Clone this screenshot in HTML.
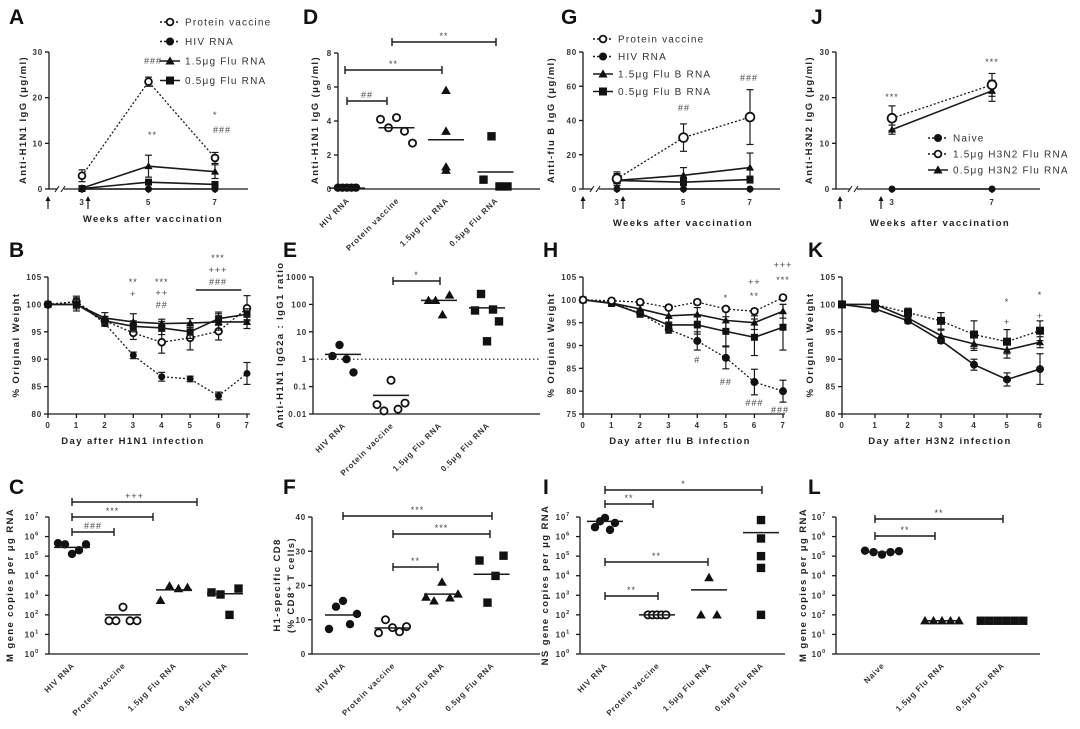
<!DOCTYPE html>
<html><head><meta charset="utf-8"><style>
html,body{margin:0;padding:0;background:#fff;}
svg{display:block;font-family:"Liberation Sans",sans-serif;}
.t{font-size:8px;font-weight:bold;fill:#333;letter-spacing:0.8px}
.ti{font-size:9.5px;font-weight:bold;fill:#222;letter-spacing:1.4px}
.lg{font-size:10px;fill:#333;letter-spacing:1.2px}
.pl{font-size:21px;font-weight:bold;fill:#111}
.an{font-size:9px;fill:#444;letter-spacing:1px}
</style></head><body>
<svg id="fig" width="1080" height="729" viewBox="0 0 1080 729" xmlns="http://www.w3.org/2000/svg"></svg>
<script>
// ===== data =====
const A_weeks=[3,5,7];
const A_protein=[2.9,23.5,6.8];const A_proteinErr=[1.3,1.0,1.2];
const A_hiv=[0,0,0];const A_hivErr=[0,0,0];
const A_flu15=[0.2,5.0,3.8];const A_flu15Err=[0.2,2.4,1.5];
const A_flu05=[0.1,1.5,1.0];const A_flu05Err=[0.1,0.5,0.4];
const A_ticks=[0,10,20,30];

const G_weeks=[3,5,7];
const G_protein=[6,30,42];const G_proteinErr=[3,8,16];
const G_hiv=[0,0,0];const G_hivErr=[0,0,0];
const G_flu15=[5,8,12.5];const G_flu15Err=[5,4.5,8.5];
const G_flu05=[5,4,5.5];const G_flu05Err=[3,2,2];
const G_ticks=[0,20,40,60,80];

const J_weeks=[3,7];
const J_naive=[0,0];const J_naiveErr=[0,0];
const J_h15=[15.5,22.8];const J_h15Err=[2.7,2.5];
const J_h05=[13,21.5];const J_h05Err=[1,2.3];
const J_ticks=[0,10,20,30];

const B_days=[0,1,2,3,4,5,6,7];
const B_protein=[100,100.5,97,94.8,93.1,93.9,95.1,99.3];const B_proteinErr=[0,1,0.8,1.2,2,2.2,1.6,2.3];
const B_hiv=[100,100.5,96.5,90.7,86.8,86.4,83.3,87.4];const B_hivErr=[0,0.5,0.5,0.6,0.8,0.5,0.7,2];
const B_flu15=[100,100,97.5,96.8,96.5,96.6,96.8,96.8];const B_flu15Err=[0,1.2,1,1.5,0.8,0.8,1.5,1.2];
const B_flu05=[100,100,97,96,95.7,95.0,97.4,98.2];const B_flu05Err=[0,0.8,0.8,1,1.2,1.2,1.2,1];
const B_ticks=[80,85,90,95,100,105];

const H_days=[0,1,2,3,4,5,6,7];
const H_protein=[100,99.8,99.5,98.3,99.5,98.0,97.5,100.5];const H_proteinErr=[0,0.5,0.5,0.5,0.5,0.5,0.5,0.5];
const H_hiv=[100,99.5,97,93.5,91,87.3,82,80];const H_hivErr=[0,0.5,0.7,0.8,2,2.4,2.8,2.4];
const H_flu15=[100,99.3,98,96.5,96.8,95.5,95.0,97.5];const H_flu15Err=[0,0.5,0.8,1.5,1.5,2.2,1.5,1.5];
const H_flu05=[100,99.2,97,94.5,94.5,93.1,91.8,94];const H_flu05Err=[0,0.5,0.8,1.5,2,3.2,4,5];
const H_ticks=[75,80,85,90,95,100,105];

const K_days=[0,1,2,3,4,5,6];
const K_sq=[100,100,98.5,97,94.5,93.2,95.2];const K_sqErr=[0,0.8,0.8,1.5,2.5,2.2,1.8];
const K_tri=[100,100,97.5,94.3,92.8,91.7,93.1];const K_triErr=[0,0.5,0.5,1,1.2,1.5,1];
const K_circ=[100,99.2,97,93.4,89,86.3,88.2];const K_circErr=[0,0.5,0.5,0.5,1,1.2,2.8];
const K_ticks=[80,85,90,95,100,105];

const cats4=["HIV RNA","Protein vaccine","1.5\u03bcg Flu RNA","0.5\u03bcg Flu RNA"];
const catsL=["Naive","1.5\u03bcg Flu RNA","0.5\u03bcg Flu RNA"];

const D_vals=[[0.08,0.08,0.08,0.08,0.08],[4.1,3.6,4.2,3.4,2.7],[1.1,5.8,3.4,1.3],[0.55,3.1,0.15,0.15]];
const D_means=[0.05,3.6,2.9,1.0];
const D_ticks=[0,2,4,6,8];

const E_vals=[[1.3,3.3,1.0,0.33],[0.022,0.013,0.17,0.015,0.025],[140,140,42,220],[60,240,4.5,65,24]];
const E_means=[1.5,0.048,140,75];
const E_ticks=[0.01,0.1,1,10,100,1000];

const C_vals=[[4.6e5,4e5,1.3e5,2e5,4e5],[50,50,250,50,50],[550,3000,2200,2500],[1400,1100,100,2200]];
const C_means=[2.8e5,100,1900,1200];

const F_vals=[[7.3,13.8,15.5,8.7,11.7],[6.2,10,7.7,6.5,8],[16.6,15.5,21,16.4,17.5],[27.3,15,22.8,28.7]];
const F_means=[11.4,7.6,17.5,23.3];
const F_ticks=[0,10,20,30,40];

const I_vals=[[3e6,6e6,9e6,2.2e6,5e6],[100,100,100,100,100],[100,8000,100],[1e5,7e6,8e5,100,2.5e4]];
const I_means=[6e6,100,1900,1.6e6];

const L_vals=[[1.9e5,1.6e5,1.2e5,1.6e5,1.8e5],[50,50,50,50,50],[50,50,50,50,50,50]];
const L_means=[1.6e5,50,50];
const logTicks=[0,1,2,3,4,5,6,7];

// ===== helpers =====
const NS="http://www.w3.org/2000/svg";
const svg=document.getElementById('fig');
function mk(tag,attrs,name,parent){
  const el=document.createElementNS(NS,tag);
  for(const k in attrs) el.setAttribute(k,attrs[k]);
  
  
  (parent||svg).appendChild(el);return el;
}
function txt(x,y,s,cls,name,extra){
  const el=mk('text',Object.assign({x:x,y:y,class:cls},extra||{}),name);
  el.textContent=s;return el;
}
function line(x1,y1,x2,y2,name,w,dash){
  const a={x1:x1,y1:y1,x2:x2,y2:y2,stroke:'#1a1a1a','stroke-width':w||1.3};
  if(dash)a['stroke-dasharray']=dash;
  return mk('line',a,name);
}
function marker(type,x,y,r,name){
  if(type==='circle')return mk('circle',{cx:x,cy:y,r:r,fill:'#111'},name);
  if(type==='open')return mk('circle',{cx:x,cy:y,r:r-0.6,fill:'#fff',stroke:'#111','stroke-width':1.8},name);
  if(type==='square')return mk('rect',{x:x-r,y:y-r,width:2*r,height:2*r,fill:'#111'},name);
  if(type==='tri'){const h=r*1.15;return mk('polygon',{points:(x)+','+(y-h)+' '+(x+h)+','+(y+h*0.75)+' '+(x-h)+','+(y+h*0.75),fill:'#111'},name);}
}
function panelLetter(x,y,s){txt(x,y,s,'pl','panel-label-'+s.toLowerCase());}
function linY(min,max,top,bot){return v=>bot-(v-min)/(max-min)*(bot-top);}
function logY(minE,maxE,top,bot){return v=>bot-(Math.log10(v)-minE)/(maxE-minE)*(bot-top);}
function yAxis(x,top,bot,ticks,fy,name){
  line(x,top,x,bot,name+'-line');
  ticks.forEach(t=>{const y=fy(t);line(x-4,y,x,y,name+'-tick');
    txt(x-6,y+3,String(t),'t',name+'-tick-label',{'text-anchor':'end'});});
}
function yTitle(x,yc,s,name){return txt(x,yc,s,'ti',name,{'text-anchor':'middle',transform:'rotate(-90 '+x+' '+yc+')'});}
function errBar(x,y1,y2,name){line(x,y1,x,y2,name,1.2);line(x-3.5,y1,x+3.5,y1,name,1.2);line(x-3.5,y2,x+3.5,y2,name,1.2);}
function series(xs,vals,errs,fx,fy,type,dash,r,name){
  let d='';xs.forEach((w,i)=>{d+=(i?'L':'M')+fx(w)+','+fy(vals[i]);});
  const a={d:d,fill:'none',stroke:'#1a1a1a','stroke-width':dash?1.3:1.6};
  if(dash)a['stroke-dasharray']=dash;
  mk('path',a,name+'-line');
  xs.forEach((w,i)=>{if(errs[i]>0)errBar(fx(w),fy(vals[i]+errs[i]),fy(Math.max(vals[i]-errs[i],0.0001)),name+'-errorbar');
    marker(type,fx(w),fy(vals[i]),r,name+'-point');});
}
function arrow(x,y,name){line(x,y+3,x,y+12,name,1.2);mk('polygon',{points:(x-2.5)+','+(y+4)+' '+(x+2.5)+','+(y+4)+' '+x+','+(y-1),fill:'#111'},name+'-head');}
function brk(x,y){mk('rect',{x:x-3,y:y-3,width:7,height:6,fill:'#fff'},'axis-break-gap');
  line(x-5,y+3,x-1,y-3,'axis-break-mark',1.1);line(x+1,y+3,x+5,y-3,'axis-break-mark',1.1);}
function bracket(x1,x2,y,label,name){line(x1,y,x2,y,name,1.4);line(x1,y-4,x1,y+4,name,1.4);line(x2,y-4,x2,y+4,name,1.4);
  txt((x1+x2)/2,y-3,label,'an',name+'-label',{'text-anchor':'middle'});}
function catLabels(cx,y0,labels,name){labels.forEach((s,i)=>{const x=cx(i)+3,y=y0+12;
  txt(x,y,s,'t',name,{'text-anchor':'end',transform:'rotate(-45 '+x+' '+y+')'});});}
function scatter(vals,means,types,cx,fy,sp,r,name){
  vals.forEach((arr,i)=>{const n=arr.length;arr.forEach((v,j)=>{marker(types[i],cx(i)+(j-(n-1)/2)*sp[i],fy(v),r,name+'-point');});
    line(cx(i)-18,fy(means[i]),cx(i)+18,fy(means[i]),name+'-mean',1.5);});
}
function legend(x,y,gap,items,name){items.forEach((it,i)=>{const yy=y+i*gap;
  line(x-10,yy,x+10,yy,name+'-swatch',1.4,it[2]);marker(it[1],x,yy,4,name+'-marker');
  txt(x+15,yy+3.5,it[0],'lg',name+'-entry');});}
function logAxis(x,top,bot,name){const fy=logY(0,7,top,bot);
  line(x,top,x,bot,name+'-line');
  logTicks.forEach(e=>{const y=fy(Math.pow(10,e));line(x-4,y,x,y,name+'-tick');
    const tx=txt(x-10,y+3,'10','t',name+'-tick-label',{'text-anchor':'end'});
    const ts=document.createElementNS(NS,'tspan');ts.setAttribute('dy','-4');ts.setAttribute('font-size','5.5');ts.textContent=String(e);tx.appendChild(ts);});
  return fy;}

// ===== Panel A =====
panelLetter(9,24,'A');
(function(){const fy=linY(0,30,52,189),fx=w=>82+(w-3)*33.25;
 yAxis(49,52,189,A_ticks,fy,'a-y-axis');line(49,189,248,189,'a-x-axis');brk(60,189);
 A_weeks.forEach(w=>{line(fx(w),189,fx(w),193,'a-x-tick');txt(fx(w),205,String(w),'t','a-x-tick-label',{'text-anchor':'middle'});});
 arrow(48,197,'a-arrow');arrow(88,197,'a-arrow');
 yTitle(26,120,'Anti-H1N1 IgG (\u03bcg/ml)','a-y-axis-title');
 txt(153,222,'Weeks after vaccination','ti','a-x-axis-title',{'text-anchor':'middle'});
 series(A_weeks,A_hiv,A_hivErr,fx,fy,'circle',null,3.5,'a-hiv');
 series(A_weeks,A_flu05,A_flu05Err,fx,fy,'square',null,3.5,'a-flu05');
 series(A_weeks,A_flu15,A_flu15Err,fx,fy,'tri',null,3.5,'a-flu15');
 series(A_weeks,A_protein,A_proteinErr,fx,fy,'open','2,2',4,'a-protein');
 txt(144,64,'###','an','a-annotation');txt(148,138,'**','an','a-annotation');txt(213,118,'*','an','a-annotation');txt(213,133,'###','an','a-annotation');
 legend(170,22,19.5,[['Protein vaccine','open','2,2'],['HIV RNA','circle','2,2'],['1.5\u03bcg Flu RNA','tri',null],['0.5\u03bcg Flu RNA','square',null]],'a-legend');
})();

// ===== Panel D =====
panelLetter(303,24,'D');
(function(){const fy=linY(0,8,53,189),cx=i=>347+i*49.5;
 yAxis(338,53,189,D_ticks,fy,'d-y-axis');line(338,189,540,189,'d-x-axis');
 yTitle(318,120,'Anti-H1N1 IgG (\u03bcg/ml)','d-y-axis-title');
 catLabels(cx,189,cats4,'d-category-label');
 scatter(D_vals,D_means,['circle','open','tri','square'],cx,fy,[4.5,8,0,8],4.2,'d');
 bracket(347,387,101,'##','d-bracket');bracket(345,442,70,'**','d-bracket');bracket(392,496,42,'**','d-bracket');
})();

// ===== Panel G =====
panelLetter(561,24,'G');
(function(){const fy=linY(0,80,52,189),fx=w=>617+(w-3)*33.25;
 yAxis(583,52,189,G_ticks,fy,'g-y-axis');line(583,189,780,189,'g-x-axis');brk(595,189);
 G_weeks.forEach(w=>{line(fx(w),189,fx(w),193,'g-x-tick');txt(fx(w),205,String(w),'t','g-x-tick-label',{'text-anchor':'middle'});});
 arrow(583,197,'g-arrow');arrow(623,197,'g-arrow');
 yTitle(554,120,'Anti-flu B IgG (\u03bcg/ml)','g-y-axis-title');
 txt(683,226,'Weeks after vaccination','ti','g-x-axis-title',{'text-anchor':'middle'});
 series(G_weeks,G_hiv,G_hivErr,fx,fy,'circle',null,3.5,'g-hiv');
 series(G_weeks,G_flu05,G_flu05Err,fx,fy,'square',null,3.5,'g-flu05');
 series(G_weeks,G_flu15,G_flu15Err,fx,fy,'tri',null,3.5,'g-flu15');
 series(G_weeks,G_protein,G_proteinErr,fx,fy,'open','2,2',5,'g-protein');
 txt(678,111,'##','an','g-annotation');txt(740,81,'###','an','g-annotation');
 legend(603,39,17.5,[['Protein vaccine','open','2,2'],['HIV RNA','circle','2,2'],['1.5\u03bcg Flu B RNA','tri',null],['0.5\u03bcg Flu B RNA','square',null]],'g-legend');
})();

// ===== Panel J =====
panelLetter(811,24,'J');
(function(){const fy=linY(0,30,52,189),fx=w=>892+(w-3)*25;
 yAxis(836,52,189,J_ticks,fy,'j-y-axis');line(836,189,1040,189,'j-x-axis');brk(853,189);
 J_weeks.forEach(w=>{line(fx(w),189,fx(w),193,'j-x-tick');txt(fx(w),205,String(w),'t','j-x-tick-label',{'text-anchor':'middle'});});
 arrow(840,197,'j-arrow');arrow(881,197,'j-arrow');
 yTitle(812,120,'Anti-H3N2 IgG (\u03bcg/ml)','j-y-axis-title');
 txt(940,226,'Weeks after vaccination','ti','j-x-axis-title',{'text-anchor':'middle'});
 series(J_weeks,J_naive,J_naiveErr,fx,fy,'circle',null,3.5,'j-naive');
 series(J_weeks,J_h05,J_h05Err,fx,fy,'tri',null,3.5,'j-h3n2-05');
 series(J_weeks,J_h15,J_h15Err,fx,fy,'open','2,2',5,'j-h3n2-15');
 txt(892,100,'***','an','j-annotation',{'text-anchor':'middle'});txt(992,65,'***','an','j-annotation',{'text-anchor':'middle'});
 legend(938,138,16,[['Naive','circle','2,2'],['1.5\u03bcg H3N2 Flu RNA','open','2,2'],['0.5\u03bcg H3N2 Flu RNA','tri',null]],'j-legend');
})();

// ===== Panel B =====
panelLetter(9,257,'B');
(function(){const fy=linY(80,105,277,414),fx=d=>48+d*28.43;
 yAxis(48,277,414,B_ticks,fy,'b-y-axis');line(48,414,250,414,'b-x-axis');
 B_days.forEach(d=>{line(fx(d),414,fx(d),418,'b-x-tick');txt(fx(d),428,String(d),'t','b-x-tick-label',{'text-anchor':'middle'});});
 yTitle(19,345,'% Original Weight','b-y-axis-title');
 txt(133,444,'Day after H1N1 infection','ti','b-x-axis-title',{'text-anchor':'middle'});
 series(B_days,B_hiv,B_hivErr,fx,fy,'circle','2,2',3.5,'b-hiv');
 series(B_days,B_protein,B_proteinErr,fx,fy,'open','2,2',4,'b-protein');
 series(B_days,B_flu05,B_flu05Err,fx,fy,'square',null,3.5,'b-flu05');
 series(B_days,B_flu15,B_flu15Err,fx,fy,'tri',null,3.5,'b-flu15');
 [[fx(3),285,'**'],[fx(3),297,'+'],[fx(4),285,'***'],[fx(4),296,'++'],[fx(4),308,'##'],[218,261,'***'],[218,273,'+++'],[218,285,'###']].forEach(a=>txt(a[0],a[1],a[2],'an','b-annotation',{'text-anchor':'middle'}));
 line(fx(5.2),290,fx(6.8),290,'b-significance-bar',1.6);
})();

// ===== Panel E =====
panelLetter(283,257,'E');
(function(){const fy=logY(-2,3,277,414),cx=i=>343+i*48;
 line(313,277,313,414,'e-y-axis-line');
 E_ticks.forEach(t=>{const y=fy(t);line(309,y,313,y,'e-y-axis-tick');txt(307,y+3,String(t),'t','e-y-axis-tick-label',{'text-anchor':'end'});});
 line(313,414,540,414,'e-x-axis');
 line(313,fy(1),540,fy(1),'e-reference-line',1.2,'1.5,2.5');
 yTitle(283,345,'Anti-H1N1 IgG2a : IgG1 ratio','e-y-axis-title');
 catLabels(cx,414,cats4,'e-category-label');
 scatter(E_vals,E_means,['circle','open','tri','square'],cx,fy,[7,7,7,6],4.2,'e');
 bracket(393,440,281,'*','e-bracket');
})();

// ===== Panel H =====
panelLetter(543,257,'H');
(function(){const fy=linY(75,105,277,414),fx=d=>583+d*28.57;
 yAxis(583,277,414,H_ticks,fy,'h-y-axis');line(583,414,785,414,'h-x-axis');
 H_days.forEach(d=>{line(fx(d),414,fx(d),418,'h-x-tick');txt(fx(d),428,String(d),'t','h-x-tick-label',{'text-anchor':'middle'});});
 yTitle(554,345,'% Original Weight','h-y-axis-title');
 txt(680,444,'Day after flu B infection','ti','h-x-axis-title',{'text-anchor':'middle'});
 series(H_days,H_hiv,H_hivErr,fx,fy,'circle','2,2',4,'h-hiv');
 series(H_days,H_flu05,H_flu05Err,fx,fy,'square',null,3.5,'h-flu05');
 series(H_days,H_flu15,H_flu15Err,fx,fy,'tri',null,3.5,'h-flu15');
 series(H_days,H_protein,H_proteinErr,fx,fy,'open','2,2',4,'h-protein');
 [[fx(5),301,'*'],[fx(6),285,'++'],[fx(6),299,'**'],[fx(7),268,'+++'],[fx(7),283,'***'],[fx(4),363,'#'],[fx(5),385,'##'],[fx(6),406,'###'],[fx(7)-3,413,'###']].forEach(a=>txt(a[0],a[1],a[2],'an','h-annotation',{'text-anchor':'middle'}));
})();

// ===== Panel K =====
panelLetter(808,257,'K');
(function(){const fy=linY(80,105,277,414),fx=d=>842+d*33;
 yAxis(842,277,414,K_ticks,fy,'k-y-axis');line(842,414,1042,414,'k-x-axis');
 K_days.forEach(d=>{line(fx(d),414,fx(d),418,'k-x-tick');txt(fx(d),428,String(d),'t','k-x-tick-label',{'text-anchor':'middle'});});
 yTitle(813,345,'% Original Weight','k-y-axis-title');
 txt(940,444,'Day after H3N2 infection','ti','k-x-axis-title',{'text-anchor':'middle'});
 series(K_days,K_circ,K_circErr,fx,fy,'circle',null,4,'k-circle');
 series(K_days,K_tri,K_triErr,fx,fy,'tri',null,3.5,'k-triangle');
 series(K_days,K_sq,K_sqErr,fx,fy,'square','2,2',4,'k-square');
 [[fx(5),305,'*'],[fx(5),325,'+'],[fx(6),298,'*'],[fx(6),319,'+']].forEach(a=>txt(a[0],a[1],a[2],'an','k-annotation',{'text-anchor':'middle'}));
})();

// ===== Panel C =====
panelLetter(9,494,'C');
(function(){const fy=logAxis(49,517,654,'c-y-axis'),cx=i=>72+i*51;
 line(49,654,248,654,'c-x-axis');
 yTitle(13,585,'M gene copies per \u03bcg RNA','c-y-axis-title');
 catLabels(cx,654,cats4,'c-category-label');
 scatter(C_vals,C_means,['circle','open','tri','square'],cx,fy,[7,7,9,9],4.2,'c');
 bracket(72,114,532,'###','c-bracket');bracket(72,153,517,'***','c-bracket');bracket(72,197,502,'+++','c-bracket');
})();

// ===== Panel F =====
panelLetter(283,494,'F');
(function(){const fy=linY(0,40,517,654),cx=i=>343+i*49.5;
 yAxis(312,517,654,F_ticks,fy,'f-y-axis');line(312,654,540,654,'f-x-axis');
 yTitle(280,585,'H1-specific CD8','f-y-axis-title');
 yTitle(294,585,'(% CD8\u207a T cells)','f-y-axis-title-line2');
 catLabels(cx,654,cats4,'f-category-label');
 scatter(F_vals,F_means,['circle','open','tri','square'],cx,fy,[7,7,8,8],4.2,'f');
 bracket(343,492,516,'***','f-bracket');bracket(393,490,534,'***','f-bracket');bracket(393,438,567,'**','f-bracket');
})();

// ===== Panel I =====
panelLetter(543,494,'I');
(function(){const fy=logAxis(580,517,654,'i-y-axis'),cx=i=>605+i*52;
 line(580,654,785,654,'i-x-axis');
 yTitle(548,585,'NS gene copies per \u03bcg RNA','i-y-axis-title');
 catLabels(cx,654,cats4,'i-category-label');
 scatter(I_vals,I_means,['circle','open','tri','square'],cx,fy,[5,4.5,8,0],4.2,'i');
 bracket(605,762,490,'*','i-bracket');bracket(605,653,504,'**','i-bracket');bracket(605,708,562,'**','i-bracket');bracket(605,658,596,'**','i-bracket');
})();

// ===== Panel L =====
panelLetter(808,494,'L');
(function(){const fy=logAxis(836,517,654,'l-y-axis'),cx=i=>882+i*60;
 line(836,654,1040,654,'l-x-axis');
 yTitle(806,585,'M gene copies per \u03bcg RNA','l-y-axis-title');
 catLabels(cx,654,catsL,'l-category-label');
 scatter(L_vals,L_means,['circle','tri','square'],cx,fy,[8.5,8.5,8.5],4.2,'l');
 bracket(875,1003,519,'**','l-bracket');bracket(875,935,536,'**','l-bracket');
})();
</script>
</body></html>
